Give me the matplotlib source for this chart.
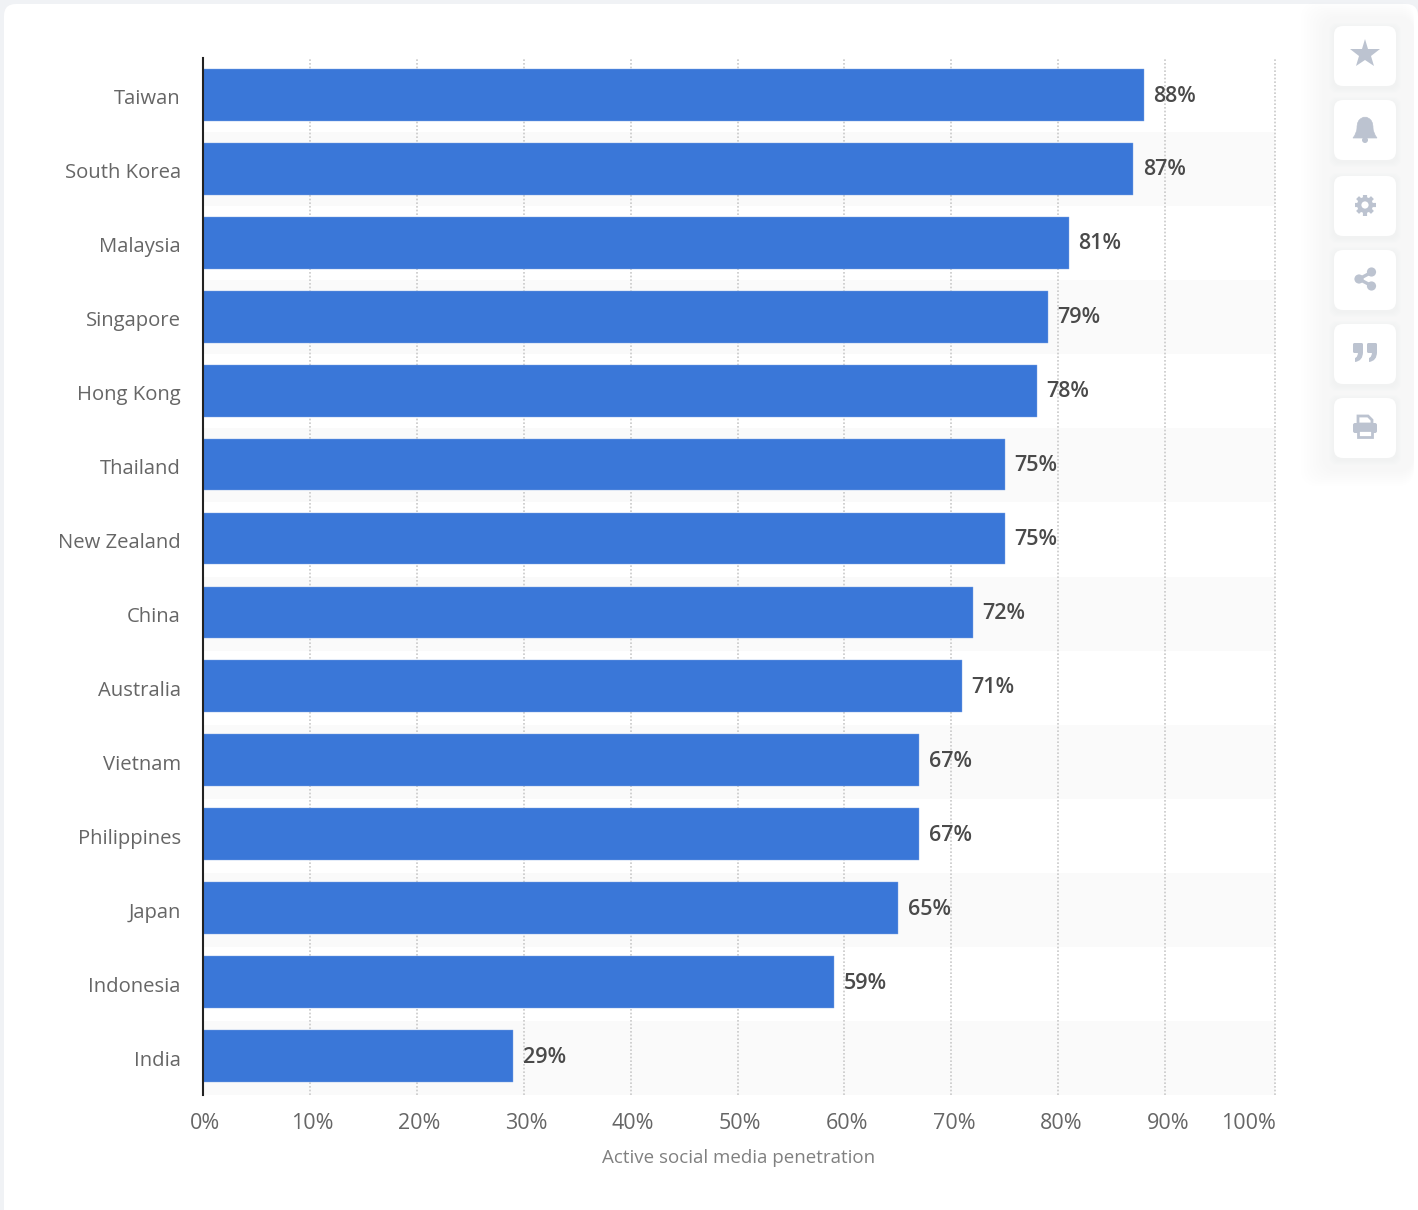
import matplotlib
matplotlib.use("Agg")
import matplotlib.pyplot as plt
from matplotlib.patches import FancyBboxPatch, Rectangle, Circle, Polygon, PathPatch
from matplotlib.path import Path
from matplotlib.transforms import ScaledTranslation
import numpy as np

countries = ["Taiwan", "South Korea", "Malaysia", "Singapore", "Hong Kong", "Thailand", "New Zealand",
             "China", "Australia", "Vietnam", "Philippines", "Japan", "Indonesia", "India"]
penetration = [88, 87, 81, 79, 78, 75, 75, 72, 71, 67, 67, 65, 59, 29]
x_ticks = [0, 10, 20, 30, 40, 50, 60, 70, 80, 90, 100]
x_tick_labels = ["0%", "10%", "20%", "30%", "40%", "50%", "60%", "70%", "80%", "90%", "100%"]
x_label = "Active social media penetration"

W, H = 1418, 1210
plt.rcParams["font.family"] = ["Open Sans", "DejaVu Sans"]
fig = plt.figure(figsize=(W / 100, H / 100), dpi=100, facecolor="#f0f2f5")

# page layer in pixel coordinates
bg = fig.add_axes([0, 0, 1, 1], zorder=0)
bg.set_xlim(0, W); bg.set_ylim(H, 0); bg.axis("off")
bg.add_patch(FancyBboxPatch((4, 4), W - 4, H + 40, boxstyle="round,pad=0,rounding_size=12",
                            fc="white", ec="none"))
# very soft halo around the tool buttons
for i in range(8):
    bg.add_patch(FancyBboxPatch((1322 - i * 3, 16 - i * 2), 92 + i * 3, 456 + i * 4,
                                boxstyle="round,pad=0,rounding_size=18", fc="#e6e9ef", ec="none", alpha=0.018))

ICON = "#bcc3d0"
cards = [26, 100, 176, 250, 324, 398]
for top in cards:
    for i in range(5, 0, -1):
        bg.add_patch(FancyBboxPatch((1334 - i, top + 2 - i), 62 + 2 * i, 60 + 2 * i,
                                    boxstyle="round,pad=0,rounding_size=9", fc="#e3e6ec", ec="none", alpha=0.05))
    bg.add_patch(FancyBboxPatch((1334, top), 62, 60, boxstyle="round,pad=0,rounding_size=9", fc="white", ec="none"))

cx = 1365
# star
bg.plot([cx], [54], marker="*", ms=22, color=ICON, mec=ICON, mew=0, zorder=3)
# bell
bell = Path([(cx - 12, 138), (cx - 8, 133), (cx - 8, 128), (cx - 8, 120), (cx - 3, 118), (cx, 116), (cx + 3, 118),
             (cx + 8, 120), (cx + 8, 128), (cx + 8, 133), (cx + 12, 138), (cx - 12, 138)],
            [Path.MOVETO, Path.CURVE3, Path.CURVE3, Path.CURVE3, Path.CURVE3, Path.CURVE3, Path.CURVE3,
             Path.CURVE3, Path.CURVE3, Path.CURVE3, Path.CURVE3, Path.CLOSEPOLY])
bg.add_patch(PathPatch(bell, fc=ICON, ec=ICON, lw=0.5, zorder=3))
bg.add_patch(Circle((cx, 140), 3, fc=ICON, ec="none", zorder=3))
# gear
for ang in np.arange(0, 180, 45):
    t = np.deg2rad(ang)
    bg.plot([cx - 10.5 * np.cos(t), cx + 10.5 * np.cos(t)], [205 - 10.5 * np.sin(t), 205 + 10.5 * np.sin(t)],
            color=ICON, lw=3.0, solid_capstyle="butt", zorder=3)
bg.add_patch(Circle((cx, 205), 8, fc=ICON, ec="none", zorder=4))
bg.add_patch(Circle((cx, 205), 3.6, fc="white", ec="none", zorder=5))
# share
bg.plot([cx + 7, cx - 6, cx + 7], [272, 279, 286], color=ICON, lw=2.4, zorder=3)
for px, py, r in [(cx + 6.5, 272, 4.6), (cx - 6, 279, 4.6), (cx + 6.5, 286, 4.6)]:
    bg.add_patch(Circle((px, py), r, fc=ICON, ec="none", zorder=3))
# quote
for dx in (-12, 2):
    bg.add_patch(FancyBboxPatch((cx + dx, 343), 10, 10, boxstyle="round,pad=0,rounding_size=1.5", fc=ICON, ec="none", zorder=3))
    q = Path([(cx + dx + 10, 352), (cx + dx + 10, 361), (cx + dx + 2, 362), (cx + dx + 2, 358),
              (cx + dx + 5, 357), (cx + dx + 5, 352), (cx + dx + 10, 352)],
             [Path.MOVETO, Path.CURVE3, Path.CURVE3, Path.LINETO, Path.CURVE3, Path.CURVE3, Path.CLOSEPOLY])
    bg.add_patch(PathPatch(q, fc=ICON, ec="none", zorder=3))
# printer
bg.add_patch(Polygon([(cx - 7, 416), (cx + 3, 416), (cx + 7, 420), (cx + 7, 424), (cx - 7, 424)], fc="white", ec=ICON, lw=2, zorder=3))
bg.add_patch(FancyBboxPatch((cx - 12, 423), 24, 10, boxstyle="round,pad=0,rounding_size=2", fc=ICON, ec="none", zorder=4))
bg.add_patch(Rectangle((cx - 7, 430), 14, 7, fc="white", ec=ICON, lw=2, zorder=5))

# chart
x0, x1, y0, y1 = 203, 1275, 58, 1095
ax = fig.add_axes([x0 / W, 1 - y1 / H, (x1 - x0) / W, (y1 - y0) / H], zorder=1)
ax.patch.set_alpha(0)
n = len(countries)
pos = np.arange(n)
y_top, y_bot = -0.5, 13.528
ax.set_xlim(0, 100.28)
ax.set_ylim(y_bot, y_top)

# alternate bands fill equal fractions of the plot height
for i in range(1, n, 2):
    ax.add_patch(Rectangle((0, 1 - (i + 1) / n), 1, 1 / n, transform=ax.transAxes, fc="#fafafa", ec="none", zorder=0))

ax.set_xticks(x_ticks, x_tick_labels)
ax.grid(axis="x", color="#c9c9c9", lw=1.2, ls=(0, (1, 1.2)), zorder=1)
ax.set_axisbelow(True)
ax.get_xgridlines()[-1].set_visible(False)

ax.barh(pos, penetration, height=0.70, color="#3a77d8", edgecolor="#7ea6e6", linewidth=0.3, zorder=2)
for p, v in zip(pos, penetration):
    ax.annotate(f"{v}%", (v, p), xytext=(7, -0.8), textcoords="offset points", va="center", ha="left",
                fontsize=15.5, fontweight="semibold", color="#4a4a4a", zorder=3)

for s in ("top", "bottom"):
    ax.spines[s].set_visible(False)
ax.spines["left"].set_color("#222222")
ax.spines["left"].set_linewidth(1.5)
ax.spines["right"].set_color("#c9c9c9")
ax.spines["right"].set_linewidth(1.2)
ax.spines["right"].set_linestyle((0, (1, 1.2)))
ax.spines["right"].set_capstyle("butt")

band_centres = y_top + (np.arange(n) + 0.5) / n * (y_bot - y_top)
ax.set_yticks(band_centres, countries)
ax.tick_params(axis="y", length=0, pad=16, labelsize=14.6, labelcolor="#666666")
for lab in ax.get_yticklabels():
    lab.set_transform(lab.get_transform() + ScaledTranslation(0, -1 / 100, fig.dpi_scale_trans))

ax.tick_params(axis="x", length=0, pad=13, labelsize=15.5, labelcolor="#666666")
for lab, t in zip(ax.get_xticklabels(), x_ticks):
    dx = 2 + 0.01 * t
    if t == 0:
        dx = 2
    if t == 100:
        lab.set_ha("right"); dx = 4
    lab.set_transform(lab.get_transform() + ScaledTranslation(dx / 100, 0, fig.dpi_scale_trans))

fig.text(739 / W, 1 - 1158 / H, x_label, ha="center", va="center", fontsize=13.5, color="#808080")

fig.savefig("out.png", dpi=100, facecolor=fig.get_facecolor())
